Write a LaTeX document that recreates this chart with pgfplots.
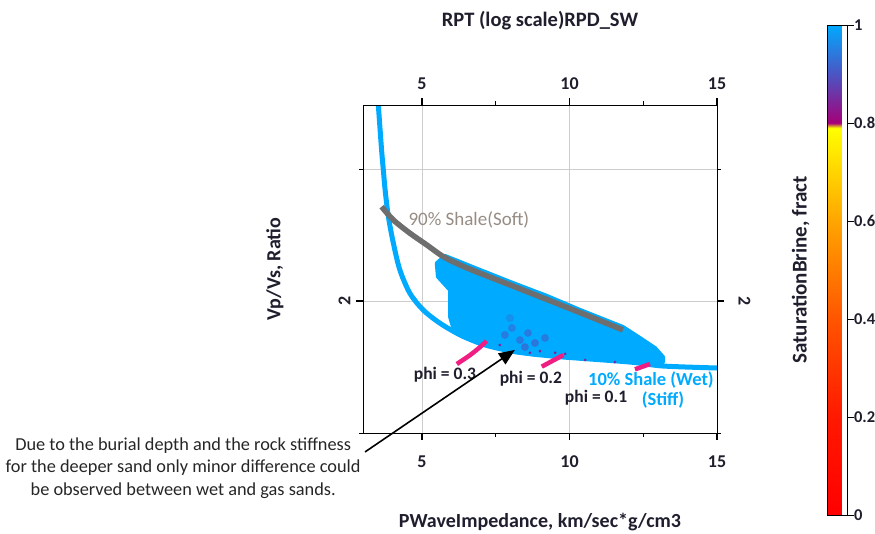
\documentclass[border=0pt]{standalone}
\usepackage{fontspec}
\setmainfont{Carlito}
\usepackage{pgfplots}
\pgfplotsset{compat=1.18}
\usetikzlibrary{arrows.meta}
\definecolor{wetblue}{RGB}{0,170,255}
\definecolor{shalegray}{RGB}{110,110,110}
\definecolor{shalelbl}{RGB}{150,140,132}
\definecolor{phimag}{RGB}{240,30,130}
\definecolor{lbl}{RGB}{30,30,45}
\definecolor{gridc}{RGB}{205,205,205}
\pgfplotsset{
  rptcommon/.style={
    scale only axis, width=354pt, height=328pt,
    xmin=3, xmax=15, ymin=1.3333, ymax=3.652,
    xtick={5,10,15}, minor xtick={7.5,12.5},
    ytick={2}, minor ytick={1.3333,3}, yticklabels={2},
    tick align=outside,
    major tick length=7pt, minor tick length=4pt,
    every major tick/.style={line width=1.6pt, black},
    every minor tick/.style={line width=0.8pt, black},
    axis line style={line width=0.9pt, black},
    tick label style={font=\fontsize{18}{18}\selectfont\bfseries, text=lbl},
    /pgf/number format/assume math mode=true,
  }
}
\begin{document}
\begin{tikzpicture}
\begin{axis}[ymode=log, rptcommon, name=ax,
  axis x line*=bottom, axis y line*=left,
  xmajorgrids, ymajorgrids, yminorgrids,
  major grid style={gridc, line width=0.8pt},
  minor grid style={gridc, line width=0.8pt},
  xticklabel style={yshift=-12pt},
  yticklabel style={xshift=-2pt, rotate=90, anchor=south},
  xlabel={PWaveImpedance, km/sec*g/cm3},
  xlabel style={font=\fontsize{20}{20}\selectfont\bfseries, text=lbl, at={(axis description cs:0.5,-0.272)}, anchor=center},
  ylabel={Vp/Vs, Ratio},
  ylabel style={font=\fontsize{20}{20}\selectfont\bfseries, text=lbl, at={(axis description cs:-0.2486,0.5)}, anchor=center},
  clip=false,
  colormap={sat}{rgb255(0cm)=(255,0,0); rgb255(20cm)=(255,25,0); rgb255(40cm)=(255,85,0); rgb255(60cm)=(255,165,0); rgb255(79cm)=(255,255,0); rgb255(80cm)=(165,0,120); rgb255(90cm)=(75,85,195); rgb255(100cm)=(0,170,255)},
  colorbar, point meta min=0, point meta max=1,
  colorbar style={
    at={(parent axis.north east)}, anchor=north west, xshift=102pt, yshift=80pt,
    scale only axis, width=20pt, height=490pt,
    xtick=\empty,
    ytick={0,0.2,0.4,0.6,0.8,1}, yticklabels={0,0.2,0.4,0.6,0.8,1},
    ytick pos=right, yticklabel pos=right,
    tick align=outside, major tick length=6pt,
    every major tick/.style={line width=0.9pt, black},
    axis line style={line width=0.9pt, black},
    yticklabel style={font=\fontsize{16.5}{16.5}\selectfont\bfseries, text=lbl, xshift=-3pt},
    ylabel={SaturationBrine, fract},
    ylabel style={font=\fontsize{21}{21}\selectfont\bfseries, text=lbl, at={(axis description cs:-1.35,0.5)}, anchor=center},
  },
]
% wet-sand (10% shale) boundary curve
\addplot[wetblue, line width=5pt, smooth, tension=0.5] coordinates {
(3.52,3.65) (3.63,3.181) (3.69,2.991) (3.75,2.813) (3.86,2.592) (4.03,2.388) (4.25,2.200) (4.59,2.048) (5.04,1.946) (5.61,1.868) (6.29,1.802) (6.97,1.756) (7.54,1.731) (8.22,1.710) (9.10,1.694) (9.78,1.684) (12.05,1.658) (13.17,1.638) (15,1.628)
};
% data cloud
\addplot[fill=wetblue, draw=wetblue, line width=4pt, line join=round] coordinates {
(5.50,2.246) (5.78,2.297) (6.29,2.255) (6.97,2.200) (8.08,2.114) (9.24,2.031) (10.36,1.946) (11.81,1.847) (12.39,1.785) (12.90,1.731) (13.17,1.684)
(13.17,1.658) (12.39,1.669) (11.47,1.679) (10.46,1.684) (9.78,1.694) (8.90,1.694) (8.22,1.710) (7.54,1.736) (6.63,1.785) (6.05,1.848) (5.95,1.906) (5.95,2.069) (5.54,2.155)
} -- cycle;
% gas points
\addplot[scatter, only marks, mark=*, mark size=3.6pt, opacity=0.75, point meta=explicit, scatter/use mapped color={draw=mapped color, fill=mapped color}] coordinates {
(7.81,1.802) [0.93] (8.05,1.841) [0.94] (8.32,1.774) [0.93] (8.59,1.813) [0.93] (8.83,1.758) [0.92] (9.17,1.785) [0.93] (7.98,1.898) [0.96] (8.49,1.736) [0.92]
};
\addplot[scatter, only marks, mark=*, mark size=1.2pt, point meta=explicit, scatter/use mapped color={draw=mapped color, fill=mapped color}] coordinates {
(7.64,1.747) [0.84] (9.00,1.715) [0.84] (9.51,1.706) [0.84] (9.85,1.700) [0.84] (8.66,1.706) [0.84] (10.53,1.669) [0.84] (11.54,1.658) [0.84]
};
% 90% shale line
\addplot[shalegray, line width=5.5pt, smooth, tension=0.5] coordinates {
(3.63,2.672) (4.03,2.565) (4.59,2.463) (5.16,2.376) (5.72,2.292) (6.29,2.234) (6.97,2.178) (8.08,2.094) (9.24,2.009) (10.69,1.907) (11.81,1.830)
};
% phi lines
\addplot[phimag, line width=4.5pt, smooth] coordinates {(6.18,1.648) (6.63,1.694) (6.97,1.7365) (7.19,1.7688)};
\addplot[phimag, line width=4.5pt] coordinates {(9.06,1.635) (9.79,1.694)};
\addplot[phimag, line width=4.5pt] coordinates {(12.22,1.6215) (12.73,1.648)};
% labels
\node[text=shalelbl, font=\fontsize{19}{19}\selectfont] at (axis cs:6.59,2.565) {90\% Shale(Soft)};
\node[text=lbl, font=\fontsize{17.5}{17.5}\selectfont\bfseries] at (axis cs:5.78,1.593) {phi = 0.3};
\node[text=lbl, font=\fontsize{17.5}{17.5}\selectfont\bfseries] at (axis cs:8.69,1.574) {phi = 0.2};
\node[text=lbl, font=\fontsize{17.5}{17.5}\selectfont\bfseries] at (axis cs:10.90,1.485) {phi = 0.1};
\node[text=wetblue, font=\fontsize{18.5}{18.5}\selectfont\bfseries] at (axis cs:12.76,1.569) {10\% Shale (Wet)};
\node[text=wetblue, font=\fontsize{18.5}{18.5}\selectfont\bfseries] at (axis cs:13.17,1.476) {(Stiff)};
\draw[black, line width=1.6pt, -{Triangle[length=16pt, width=13pt]}] (axis cs:3.07,1.258) -- (axis cs:8.15,1.721);
\node[text=black!85, font=\fontsize{18.3}{22.5}\selectfont, align=center] at (axis description cs:-0.508,-0.107) {Due to the burial depth and the rock stiffness\\for the deeper sand only minor difference could\\be observed between wet and gas sands.};
\end{axis}
\begin{axis}[ymode=log, rptcommon,
  axis x line*=top, axis y line*=right,
  xticklabel style={yshift=5pt},
  yticklabel style={xshift=11pt, rotate=-90, anchor=south},
  title={RPT (log scale)RPD\_SW},
  title style={font=\fontsize{20.5}{20.5}\selectfont\bfseries, text=lbl, at={(axis description cs:0.5,1.238)}, anchor=center},
]
\addplot[draw=none] coordinates {(5,2) (10,2.5)};
\end{axis}
\pgfresetboundingbox
\path ([xshift=-363pt,yshift=-100pt]ax.south west) rectangle ([xshift=158pt,yshift=105pt]ax.north east);
\end{tikzpicture}
\end{document}
